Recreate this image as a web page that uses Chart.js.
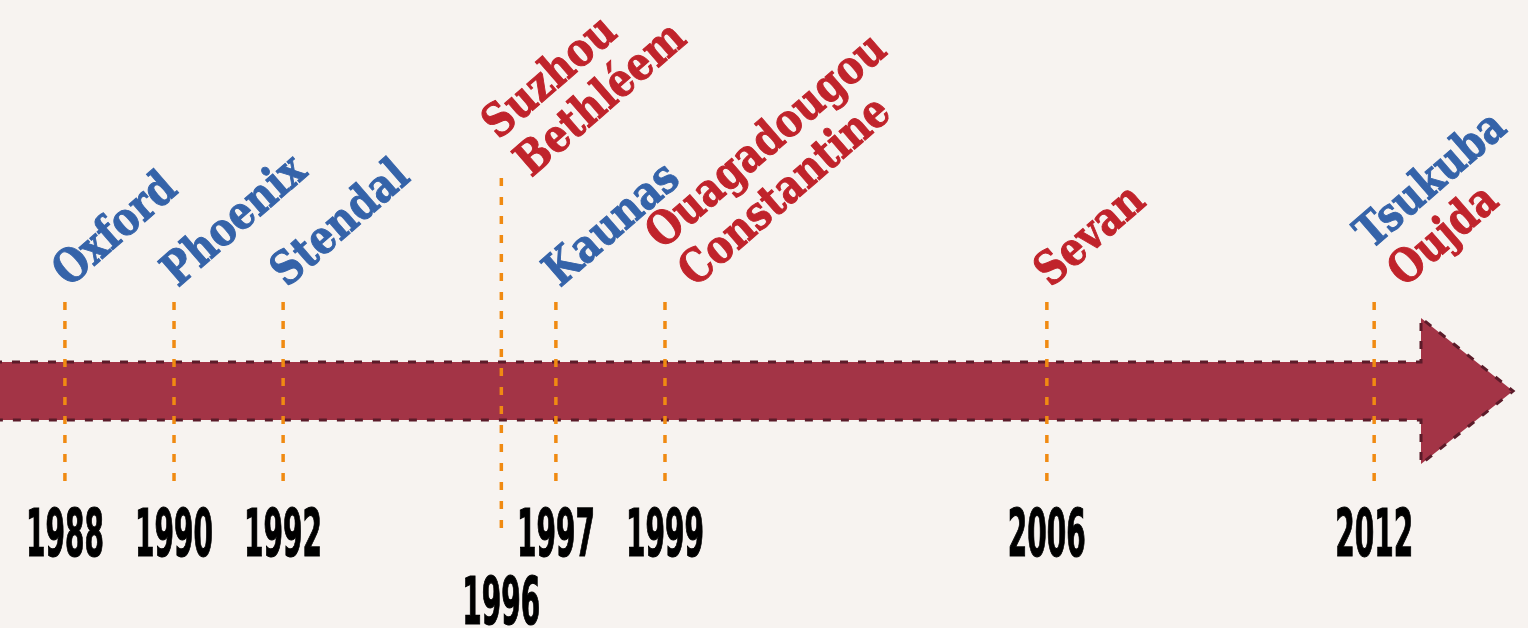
<!DOCTYPE html>
<html>
<head>
<meta charset="utf-8">
<script src="https://cdn.jsdelivr.net/npm/chart.js@4"></script>
<style>
  html, body { margin: 0; padding: 0; background: #f7f3f0; }
  #wrap { width: 1528px; height: 628px; }
</style>
</head>
<body>
<div id="wrap"><canvas id="timeline"></canvas></div>
<script>
// --- datos de la línea de tiempo ---
const years = [1988, 1990, 1992, 1996, 1997, 1999, 2006, 2012];
const cities = [
    ['Oxford'],
    ['Phoenix'],
    ['Stendal'],
    ['Suzhou', 'Bethléem'],
    ['Kaunas'],
    ['Ouagadougou', 'Constantine'],
    ['Sevan'],
    ['Tsukuba', 'Oujda']
];
// 0 = azul, 1 = rojo (un valor por ciudad)
const cityGroups = [[0], [0], [0], [1, 1], [0], [1, 1], [1], [0, 1]];
const groupColors = ['#3563a9', '#c0232b'];

// años que se dibujan desplazados (línea más larga, etiqueta más abajo)
const raisedYears = [1996];

const ORANGE = '#f08a12';
const BAND = '#a33446';
const BAND_EDGE = '#5b1b29';

const ANGLE = -41 * Math.PI / 180;
const CITY_SQUEEZE = 0.84;
const cityFont = "bold 46px 'DejaVu Serif', serif";
const yearFont = "bold 66px 'Liberation Sans Narrow', 'DejaVu Sans Condensed', sans-serif";

const timelinePlugin = {
    id: 'timeline',
    beforeDatasetsDraw(chart) {
        const { ctx, scales: { x } } = chart;
        const top = 362, bottom = 420, mid = 391;
        const headX = 1421, tipX = 1513;

        // flecha
        ctx.save();
        ctx.beginPath();
        ctx.moveTo(-10, top);
        ctx.lineTo(headX, top);
        ctx.lineTo(headX, 318);
        ctx.lineTo(tipX, mid);
        ctx.lineTo(headX, 464);
        ctx.lineTo(headX, bottom);
        ctx.lineTo(-10, bottom);
        ctx.closePath();
        ctx.fillStyle = BAND;
        ctx.fill();
        ctx.setLineDash([8, 10]);
        ctx.lineDashOffset = -4;
        ctx.lineWidth = 3;
        ctx.strokeStyle = BAND_EDGE;
        ctx.stroke();
        ctx.restore();

        // líneas punteadas
        years.forEach(yr => {
            const px = x.getPixelForValue(yr);
            const raised = raisedYears.includes(yr);
            ctx.save();
            ctx.setLineDash([8, 11]);
            ctx.lineWidth = 3.5;
            ctx.strokeStyle = ORANGE;
            ctx.beginPath();
            ctx.moveTo(px, raised ? 178 : 302);
            ctx.lineTo(px, raised ? 530 : 484);
            ctx.stroke();
            ctx.restore();
        });
    },
    afterDatasetsDraw(chart) {
        const { ctx, scales: { x } } = chart;

        // ancho de referencia para comprimir los números
        ctx.save();
        ctx.font = yearFont;
        const squeeze = 78 / ctx.measureText('1988').width;
        ctx.restore();

        years.forEach((yr, i) => {
            const px = x.getPixelForValue(yr);
            const raised = raisedYears.includes(yr);

            // año
            ctx.save();
            ctx.font = yearFont;
            ctx.fillStyle = '#000';
            ctx.strokeStyle = '#000';
            ctx.lineWidth = 1.2;
            ctx.textAlign = 'center';
            ctx.textBaseline = 'alphabetic';
            ctx.translate(px, raised ? 624 : 556);
            ctx.scale(squeeze, 1);
            ctx.fillText(String(yr), 0, 0);
            ctx.strokeText(String(yr), 0, 0);
            ctx.restore();

            // ciudades
            const lines = cities[i];
            const baseY = raised ? 178 : 288;
            const baseX = px + (lines.length > 1 ? 30 : 4);
            ctx.save();
            ctx.translate(baseX, baseY);
            ctx.rotate(ANGLE);
            ctx.scale(CITY_SQUEEZE, 1);
            ctx.font = cityFont;
            ctx.textAlign = 'left';
            ctx.textBaseline = 'alphabetic';
            ctx.lineWidth = 1;
            lines.forEach((name, j) => {
                const row = lines.length - 1 - j;
                const c = groupColors[cityGroups[i][j]];
                ctx.fillStyle = c;
                ctx.strokeStyle = c;
                ctx.fillText(name, 0, -row * 50);
                ctx.strokeText(name, 0, -row * 50);
            });
            ctx.restore();
        });
    }
};

const ctx = document.getElementById('timeline').getContext('2d');
new Chart(ctx, {
    type: 'scatter',
    data: {
        datasets: [{
            data: years.map(y => ({ x: y, y: 0 })),
            pointRadius: 0,
            showLine: false
        }]
    },
    options: {
        responsive: true,
        maintainAspectRatio: false,
        animation: false,
        layout: { padding: 0 },
        events: [],
        scales: {
            x: { type: 'linear', min: 1986.81, max: 2014.82, display: false },
            y: { min: -1, max: 1, display: false }
        },
        plugins: {
            legend: { display: false },
            tooltip: { enabled: false }
        }
    },
    plugins: [timelinePlugin]
});
</script>
</body>
</html>
